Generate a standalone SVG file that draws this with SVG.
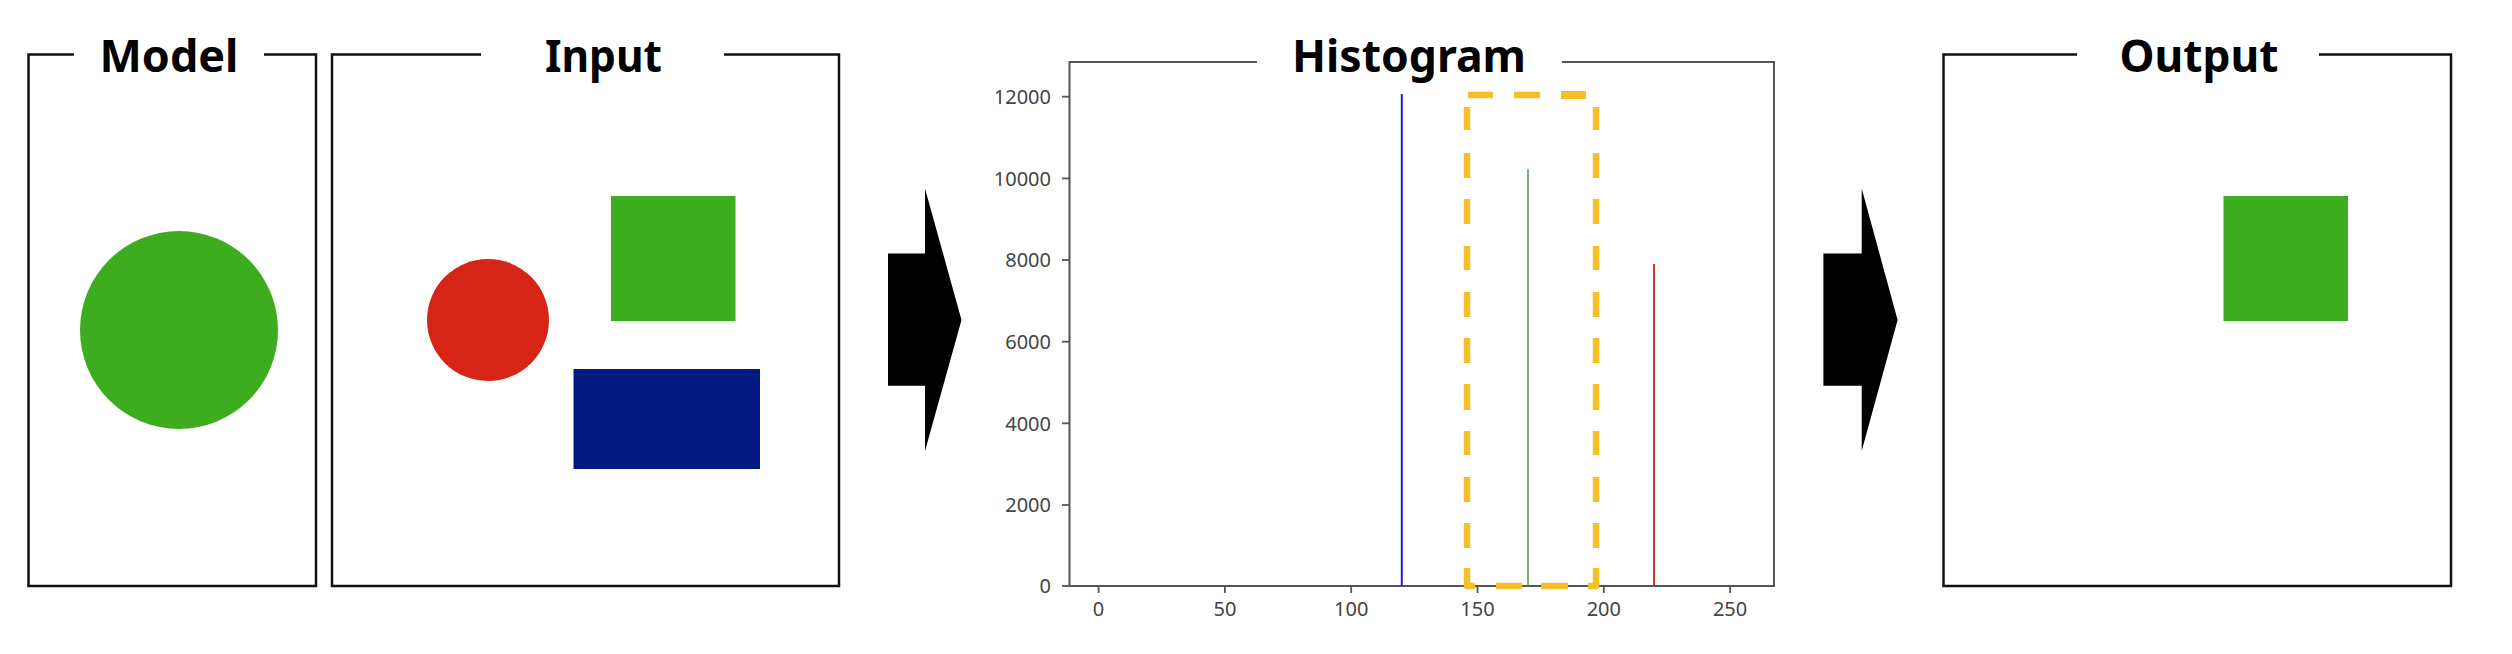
<svg xmlns="http://www.w3.org/2000/svg" width="2512" height="654" viewBox="0 0 2512 654">
<style>
.frame{fill:none;stroke:#111;stroke-width:2.5}
.title{font-family:"Noto Sans","Open Sans","Liberation Sans",sans-serif;font-weight:700;font-size:45px;fill:#000;text-anchor:middle}
.axis{fill:none;stroke:#555;stroke-width:2}
.tick{stroke:#555;stroke-width:1.8}
.tl{font-family:"Noto Sans","DejaVu Sans","Liberation Sans",sans-serif;font-size:20px;fill:#444}
.ty{text-anchor:end}
.tx{text-anchor:middle}
.green{fill:#3EAC1F}
.arrow{fill:#000}
.dash{fill:none;stroke:#F5BF28;stroke-width:6.5;stroke-linecap:butt;stroke-linejoin:round}
</style>
<rect width="2512" height="654" fill="#fff"/>

<g id="model">
<path class="frame" d="M74,54.5 H28.5 V586 H316 V54.5 H264"/>
<text class="title" x="169" y="72" textLength="139" lengthAdjust="spacingAndGlyphs">Model</text>
<circle class="green" cx="179" cy="330" r="99"/>
</g>

<g id="input">
<path class="frame" d="M481,54.5 H332 V586 H839 V54.5 H724"/>
<text class="title" x="603.5" y="72" textLength="117" lengthAdjust="spacingAndGlyphs">Input</text>
<circle cx="488" cy="320" r="61" fill="#D62516"/>
<rect class="green" x="611" y="196" width="124.5" height="125"/>
<rect x="573.5" y="369" width="186.5" height="100" fill="#02197F"/>
</g>

<g id="histogram">
<path class="axis" d="M1257,62 H1069.5 V586 H1774 V62 H1562"/>
<text class="title" x="1409" y="72" textLength="234" lengthAdjust="spacingAndGlyphs">Histogram</text>
<g class="tick">
<line x1="1062" y1="96.7" x2="1069" y2="96.7"/>
<line x1="1062" y1="178.4" x2="1069" y2="178.4"/>
<line x1="1062" y1="260" x2="1069" y2="260"/>
<line x1="1062" y1="341.7" x2="1069" y2="341.7"/>
<line x1="1062" y1="423.3" x2="1069" y2="423.3"/>
<line x1="1062" y1="505" x2="1069" y2="505"/>
<line x1="1062" y1="586" x2="1069" y2="586"/>
<line x1="1098.6" y1="586" x2="1098.6" y2="593"/>
<line x1="1224.9" y1="586" x2="1224.9" y2="593"/>
<line x1="1351.2" y1="586" x2="1351.2" y2="593"/>
<line x1="1477.5" y1="586" x2="1477.5" y2="593"/>
<line x1="1603.8" y1="586" x2="1603.8" y2="593"/>
<line x1="1730.1" y1="586" x2="1730.1" y2="593"/>
</g>
<g class="tl ty">
<text x="1051" y="104">12000</text>
<text x="1051" y="185.7">10000</text>
<text x="1051" y="267.3">8000</text>
<text x="1051" y="349">6000</text>
<text x="1051" y="430.6">4000</text>
<text x="1051" y="512.3">2000</text>
<text x="1051" y="593.3">0</text>
</g>
<g class="tl tx">
<text x="1098.6" y="616">0</text>
<text x="1224.9" y="616">50</text>
<text x="1351.2" y="616">100</text>
<text x="1477.5" y="616">150</text>
<text x="1603.8" y="616">200</text>
<text x="1730.1" y="616">250</text>
</g>
<line x1="1401.8" y1="94" x2="1401.8" y2="586" stroke="#1d1de0" stroke-width="2"/>
<line x1="1528" y1="169" x2="1528" y2="586" stroke="#5b9e5b" stroke-width="1.6"/>
<line x1="1654" y1="264" x2="1654" y2="586" stroke="#d42020" stroke-width="1.8"/>
<path class="dash" d="M1468,95 H1493 M1514,95 H1540 M1467,107 V130 M1467,153 V178 M1467,199 V224 M1467,246 V270 M1467,292 V317 M1467,338 V363 M1467,384 V410 M1467,431 V455 M1467,477 V502 M1467,523 V548 M1467,568 V586 H1475 M1496,586 H1522 M1541,586 H1568 M1596,107 V130 M1596,153 V178 M1596,199 V224 M1596,246 V270 M1596,292 V317 M1596,338 V363 M1596,384 V410 M1596,431 V455 M1596,477 V502 M1596,523 V548 M1588,586 H1596 V568"/>
<path d="M1561,95 H1586" fill="none" stroke="#F5BF28" stroke-width="8"/>
</g>

<g id="output">
<path class="frame" d="M2077,54.5 H1943.5 V586 H2451 V54.5 H2319"/>
<text class="title" x="2199" y="72" textLength="159" lengthAdjust="spacingAndGlyphs">Output</text>
<rect class="green" x="2223.5" y="196" width="124.5" height="125"/>
</g>

<g id="connectors">
<polygon class="arrow" points="888,253.5 925,253.5 925,188.5 961.5,320 925,451 925,385.7 888,385.7"/>
<polygon class="arrow" points="1823.4,253.5 1861.7,253.5 1861.7,188.5 1897.6,320 1861.7,451 1861.7,385.7 1823.4,385.7"/>
</g>
</svg>
